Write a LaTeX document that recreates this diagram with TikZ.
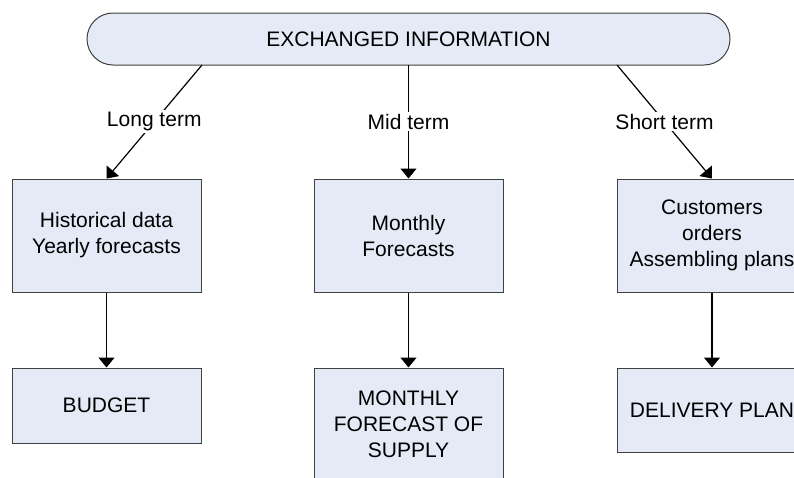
\documentclass[tikz,border=0pt]{standalone}
\usepackage{fontspec}
\setmainfont{Liberation Sans}
\usetikzlibrary{arrows.meta}
\definecolor{boxfill}{RGB}{228,235,246}
\definecolor{boxline}{RGB}{64,64,64}
\tikzset{
  boxfont/.style={font=\fontsize{21}{26}\selectfont},
  infobox/.style={boxfont, rectangle, draw=boxline, fill=boxfill, line width=1pt,
    align=center, inner sep=0pt, minimum width=189pt},
  headbox/.style={boxfont, rectangle, rounded corners=26pt, draw=boxline, fill=boxfill,
    line width=1pt, inner sep=0pt, minimum width=643pt, minimum height=52pt},
  flow/.style={line width=1.2pt, -{Triangle[width=16pt,length=10pt]}},
  termlabel/.style={boxfont, fill=white, inner sep=2pt}
}
\begin{document}
\begin{tikzpicture}[x=1pt, y=-1pt]
  \useasboundingbox (0,0) rectangle (794,477);
  \clip (0,0) rectangle (794,477);

  % header
  \node[headbox] (head) at (408.5,39) {EXCHANGED INFORMATION};

  % middle row
  \node[infobox, minimum height=113pt] (hist) at (106.5,235.5) {Historical data\\Yearly forecasts};
  \node[infobox, minimum height=113pt] (month) at (408.5,235.5) {Monthly\\Forecasts};
  \node[infobox, minimum height=113pt, minimum width=190pt] (orders) at (712,235.5) {Customers\\orders\\Assembling plans};

  % bottom row
  \node[infobox, minimum height=75pt] (budget) at (106.5,405.5) {BUDGET};
  \node[infobox, minimum height=112pt] (supply) at (408.5,424) {MONTHLY\\FORECAST OF\\SUPPLY};
  \node[infobox, minimum height=84pt, minimum width=190pt] (delivery) at (712,410) {DELIVERY PLAN};

  % connector starts on the header's lower edge
  \coordinate (hl) at (202,65);
  \coordinate (hm) at (408.5,65);
  \coordinate (hr) at (617,65);

  \draw[flow] (hl) -- node[termlabel] {Long term} (hist.north);
  \draw[flow] (hm) -- node[termlabel] {Mid term} (month.north);
  \draw[flow] (hr) -- node[termlabel] {Short term} (orders.north);

  \draw[flow] (hist.south) -- (budget.north);
  \draw[flow] (month.south) -- (supply.north);
  \draw[flow] (orders.south) -- (delivery.north);
\end{tikzpicture}
\end{document}
